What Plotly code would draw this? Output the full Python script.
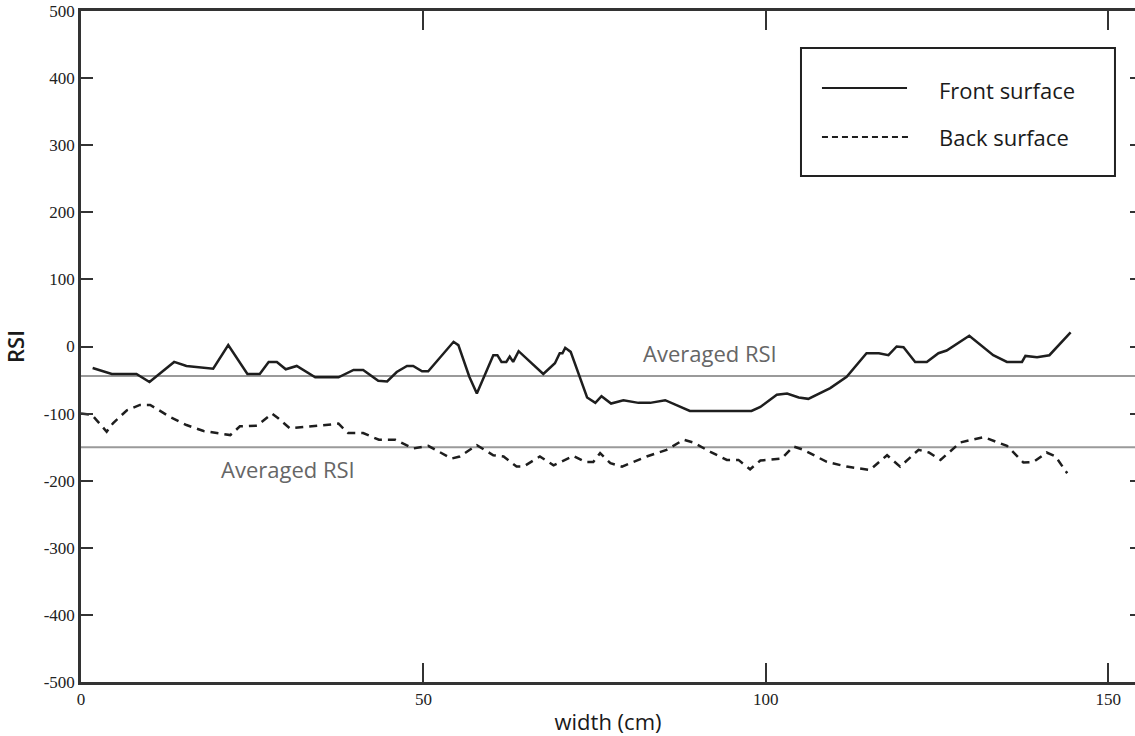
import plotly.graph_objects as go

# ---- data ----
front_x = [1.7, 4.5, 8.1, 10.0, 13.6, 15.4, 19.3, 21.5, 24.3, 26.1,
           27.4, 28.6, 29.9, 31.5, 34.2, 37.6, 39.8, 41.2, 43.4, 44.7,
           46.1, 47.6, 48.5, 49.8, 50.7, 54.4, 55.1, 56.7, 57.8, 60.2,
           60.8, 61.4, 62.1, 62.6, 63.1, 63.9, 67.5, 69.2, 69.9, 70.3,
           70.7, 71.5, 73.9, 75.1, 76.0, 77.4, 79.2, 81.4, 83.1, 85.3,
           88.9, 97.9, 99.2, 101.6, 103.1, 104.8, 106.2, 109.4, 111.8, 114.7,
           116.5, 117.9, 119.1, 120.1, 121.8, 123.5, 125.2, 126.4, 129.7, 133.2,
           135.2, 137.4, 137.9, 139.6, 141.4, 144.5]
front_y = [-32, -41, -41, -53, -23, -29, -33, 2, -41, -41,
           -23, -23, -34, -29, -46, -46, -35, -35, -51, -52,
           -38, -29, -29, -37, -37, 7, 2, -45, -70, -13,
           -13, -23, -23, -15, -23, -7, -41, -25, -10, -10,
           -2, -8, -76, -84, -74, -85, -80, -84, -84, -80,
           -96, -96, -90, -72, -70, -76, -78, -62, -45, -10,
           -10, -13, 0, -1, -23, -23, -10, -6, 16, -13,
           -23, -23, -14, -16, -13, 21]

back_x = [0.0, 1.6, 2.3, 3.75, 4.7, 6.7, 8.6, 10.1, 13.0, 15.4,
          17.9, 21.8, 23.2, 25.7, 27.9, 28.8, 30.5, 34.4, 37.6, 39.0,
          41.2, 43.5, 45.9, 48.5, 50.7, 54.1, 55.3, 57.8, 60.2, 61.7,
          63.6, 64.6, 67.0, 69.0, 71.9, 73.6, 74.8, 75.8, 77.3, 79.0,
          82.6, 85.5, 88.0, 89.4, 91.9, 94.3, 96.0, 97.7, 99.2, 102.3,
          104.0, 105.5, 108.9, 111.8, 115.2, 117.7, 119.6, 122.3, 123.8, 125.5,
          126.9, 128.4, 131.8, 135.2, 137.6, 139.1, 141.0, 142.3, 144.0]
back_y = [-100, -102, -110, -127, -114, -95, -87, -87, -105, -117,
          -126, -132, -119, -118, -100, -107, -122, -118, -115, -129,
          -129, -139, -139, -152, -148, -167, -164, -147, -162, -164,
          -179, -179, -164, -177, -163, -172, -172, -159, -174, -179,
          -164, -154, -139, -143, -157, -169, -169, -183, -170, -167,
          -149, -154, -172, -179, -184, -162, -179, -154, -158, -169,
          -157, -143, -135, -148, -173, -172, -158, -164, -189]

avg_values = [-44, -150]
avg_label_x = [91.9, 30.2]
avg_label_y = [-10, -183]
avg_label_text = ["Averaged RSI", "Averaged RSI"]

series_names = ["Front surface", "Back surface"]

y_tickvals = [-500, -400, -300, -200, -100, 0, 100, 200, 300, 400, 500]
y_ticktext = ["-500", "-400", "-300", "-200", "-100", "0", "100", "200", "300", "400", "500"]
x_tickvals = [0, 50, 100, 150]
x_ticktext = ["0", "50", "100", "150"]

X_MAX = 153.9
AXIS_COLOR = "#333333"
SANS = "Open Sans"
SERIF = "Liberation Serif"

fig = go.Figure()

fig.add_trace(go.Scatter(x=front_x, y=front_y, mode="lines", name=series_names[0],
                         line=dict(color="#1e1e1e", width=2.5), showlegend=False))
fig.add_trace(go.Scatter(x=back_x, y=back_y, mode="lines", name=series_names[1],
                         line=dict(color="#1e1e1e", width=2.5, dash="8px,6px"),
                         showlegend=False))
# invisible helper trace so the right-hand tick axis is drawn
fig.add_trace(go.Scatter(x=[0], y=[0], yaxis="y2", mode="markers", opacity=0,
                         hoverinfo="skip", showlegend=False))

# averaged lines
for v in avg_values:
    fig.add_shape(type="line", xref="paper", x0=0, x1=1, yref="y", y0=v, y1=v,
                  line=dict(color="#9a9a9a", width=2), layer="below")

for tx, ty, tt in zip(avg_label_x, avg_label_y, avg_label_text):
    fig.add_annotation(x=tx, y=ty, xref="x", yref="y", text=tt, showarrow=False,
                       font=dict(family=SANS, size=22, color="#666666"))

# legend box (drawn manually)
fig.add_shape(type="rect", xref="paper", yref="paper", x0=0.6831, x1=0.9810,
              y0=0.7541, y1=0.9449, line=dict(color="#222222", width=2),
              fillcolor="white", layer="above")
fig.add_shape(type="line", xref="paper", yref="paper", x0=0.7030, x1=0.7837,
              y0=0.8852, y1=0.8852, line=dict(color="#1e1e1e", width=2))
fig.add_shape(type="line", xref="paper", yref="paper", x0=0.7030, x1=0.7865,
              y0=0.8122, y1=0.8122, line=dict(color="#1e1e1e", width=2, dash="6px,4px"))
for yy, name in zip([0.8823, 0.8122], series_names):
    fig.add_annotation(x=0.8121, y=yy, xref="paper", yref="paper", text=name,
                       showarrow=False, xanchor="left", yanchor="middle",
                       font=dict(family=SANS, size=22, color="#1a1a1a"))

fig.update_layout(
    width=1135, height=736,
    margin=dict(l=81, r=0, t=11, b=54),
    paper_bgcolor="white", plot_bgcolor="white",
    showlegend=False,
    xaxis=dict(range=[0, X_MAX], tickvals=x_tickvals, ticktext=x_ticktext,
               ticks="inside", ticklen=19, tickwidth=2, tickcolor=AXIS_COLOR,
               showline=True, linecolor=AXIS_COLOR, linewidth=2.5, mirror="ticks",
               showgrid=False, zeroline=False,
               tickfont=dict(family=SERIF, size=17, color="#222222"),
               title=dict(text="width (cm)", standoff=8,
                          font=dict(family=SANS, size=22, color="#1a1a1a"))),
    yaxis=dict(range=[-500, 500], tickvals=y_tickvals, ticktext=y_ticktext,
               ticks="inside", ticklen=12, tickwidth=2, tickcolor=AXIS_COLOR,
               showline=True, linecolor=AXIS_COLOR, linewidth=2.5,
               showgrid=False, zeroline=False,
               tickfont=dict(family=SERIF, size=17, color="#222222"),
               title=dict(text="RSI", standoff=16,
                          font=dict(family=SANS, size=22, color="#1a1a1a", weight=600))),
    yaxis2=dict(range=[-500, 500], overlaying="y", side="right", tickvals=y_tickvals,
                ticks="inside", ticklen=5, tickwidth=2, tickcolor=AXIS_COLOR,
                showticklabels=False, showline=False, showgrid=False, zeroline=False),
)

fig.write_html("out.html")
